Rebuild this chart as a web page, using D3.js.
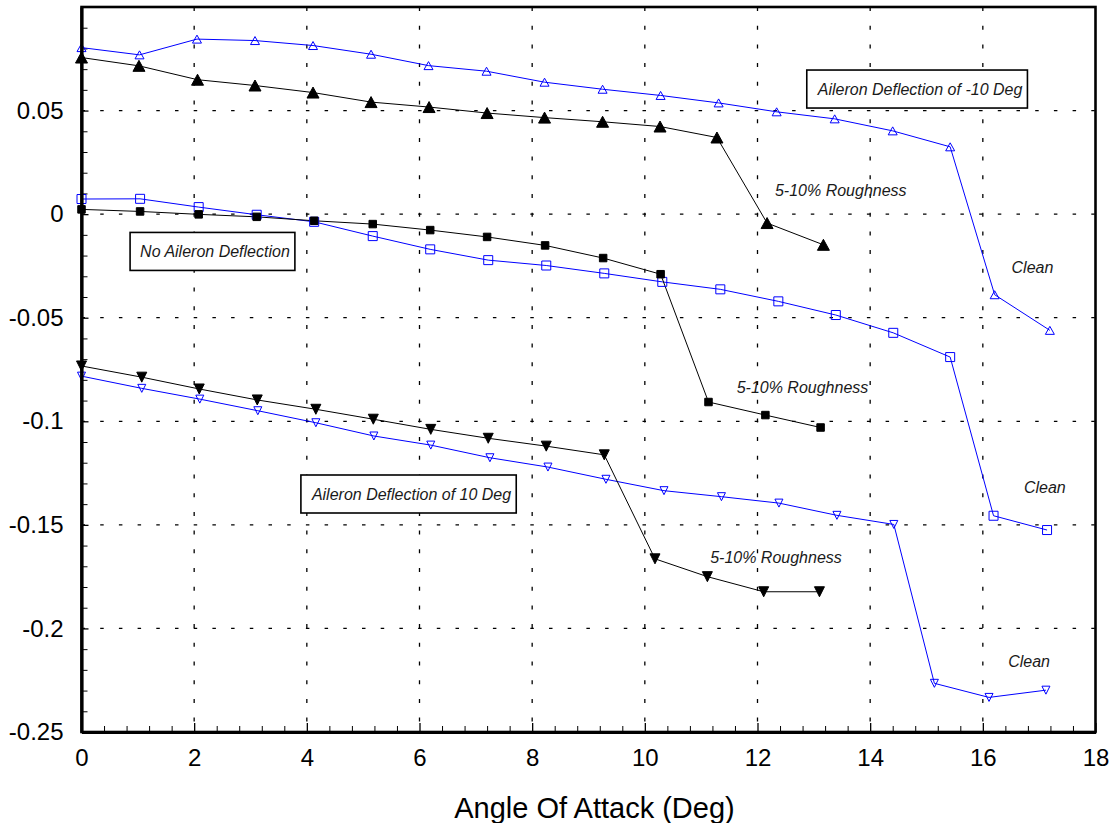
<!DOCTYPE html>
<html lang="en">
<head>
<meta charset="UTF-8">
<title>Rolling moment vs angle of attack</title>
<style>
    body { margin: 0; background: #fff; }
    svg { font-family: Arial, "Liberation Sans", Helvetica, sans-serif; }
    .axis text { font-size: 24px; fill: #000; }
    .note { font-size: 16px; font-style: italic; fill: #1a1a1a; }
</style>
</head>
<body>
<script src="https://d3js.org/d3.v7.min.js"></script>
<script>
    const width = 1115;
    const height = 823;

    // axis ticks
    const xTicks = [0, 2, 4, 6, 8, 10, 12, 14, 16, 18];
    const yTicks = [-0.25, -0.2, -0.15, -0.1, -0.05, 0, 0.05];

    // aileron -10 deg
    const cleanNeg10X = [0, 1.03, 2.05, 3.08, 4.11, 5.14, 6.16, 7.19, 8.22, 9.25, 10.28, 11.31, 12.34, 13.37, 14.40, 15.42, 16.21, 17.19];
    const cleanNeg10Y = [0.0804, 0.0769, 0.0845, 0.0838, 0.0814, 0.0772, 0.0717, 0.0690, 0.0637, 0.0603, 0.0573, 0.0537, 0.0494, 0.0460, 0.0402, 0.0325, -0.0389, -0.0561];
    const roughNeg10X = [0, 1.02, 2.06, 3.08, 4.11, 5.14, 6.17, 7.20, 8.22, 9.25, 10.27, 11.28, 12.17, 13.17];
    const roughNeg10Y = [0.0756, 0.0716, 0.0649, 0.0621, 0.0587, 0.0541, 0.0517, 0.0488, 0.0466, 0.0446, 0.0423, 0.0370, -0.0043, -0.0148];

    // no aileron deflection
    const clean0X = [0, 1.04, 2.08, 3.11, 4.13, 5.17, 6.19, 7.22, 8.25, 9.28, 10.31, 11.34, 12.37, 13.39, 14.41, 15.42, 16.19, 17.14];
    const clean0Y = [0.0073, 0.0074, 0.0034, -0.0003, -0.0037, -0.0106, -0.0170, -0.0222, -0.0248, -0.0286, -0.0327, -0.0363, -0.0421, -0.0487, -0.0573, -0.0690, -0.1456, -0.1525];
    const rough0X = [0, 1.04, 2.08, 3.11, 4.13, 5.17, 6.19, 7.20, 8.23, 9.26, 10.28, 11.13, 12.14, 13.12];
    const rough0Y = [0.0023, 0.0013, -0.0001, -0.0013, -0.0032, -0.0048, -0.0077, -0.0110, -0.0151, -0.0212, -0.0290, -0.0907, -0.0970, -0.1030];

    // aileron +10 deg
    const clean10X = [0, 1.07, 2.10, 3.13, 4.16, 5.19, 6.20, 7.25, 8.28, 9.31, 10.34, 11.36, 12.38, 13.41, 14.42, 15.14, 16.11, 17.12];
    const clean10Y = [-0.0782, -0.0841, -0.0893, -0.0949, -0.1007, -0.1071, -0.1115, -0.1176, -0.1221, -0.1280, -0.1335, -0.1364, -0.1395, -0.1454, -0.1498, -0.2265, -0.2333, -0.2298];
    const rough10X = [0, 1.07, 2.09, 3.12, 4.16, 5.18, 6.20, 7.22, 8.25, 9.28, 10.18, 11.11, 12.11, 13.10];
    const rough10Y = [-0.0733, -0.0787, -0.0844, -0.0897, -0.0942, -0.0990, -0.1039, -0.1082, -0.1120, -0.1162, -0.1664, -0.1750, -0.1823, -0.1823];

    // marker styles per series
    const series = [
        { xs: cleanNeg10X, ys: cleanNeg10Y, color: '#0000ff', shape: 'triUp', filled: false, w: 9, h: 8 },
        { xs: roughNeg10X, ys: roughNeg10Y, color: '#000', shape: 'triUp', filled: true, w: 12, h: 11 },
        { xs: clean0X, ys: clean0Y, color: '#0000ff', shape: 'square', filled: false, w: 9, h: 9 },
        { xs: rough0X, ys: rough0Y, color: '#000', shape: 'square', filled: true, w: 7.5, h: 7.5 },
        { xs: clean10X, ys: clean10Y, color: '#0000ff', shape: 'triDown', filled: false, w: 8, h: 8 },
        { xs: rough10X, ys: rough10Y, color: '#000', shape: 'triDown', filled: true, w: 10, h: 10 }
    ];

    // boxed captions and free labels (text start x, baseline y in data units)
    const boxNotes = [
        { text: 'Aileron Deflection of -10 Deg', x: 13.07, y: 0.0575 },
        { text: 'No Aileron Deflection', x: 1.04, y: -0.0209 },
        { text: 'Aileron Deflection of 10 Deg', x: 4.09, y: -0.1380 }
    ];
    const notes = [
        { text: '5-10% Roughness', x: 12.31, y: 0.0089 },
        { text: '5-10% Roughness', x: 11.63, y: -0.0864 },
        { text: '5-10% Roughness', x: 11.16, y: -0.1684 },
        { text: 'Clean', x: 16.51, y: -0.0284 },
        { text: 'Clean', x: 16.73, y: -0.1346 },
        { text: 'Clean', x: 16.45, y: -0.2186 }
    ];

    const xScale = d3.scaleLinear().domain([0, 18]).range([81.5, 1095.5]);
    const yScale = d3.scaleLinear().domain([-0.25, 0.1]).range([732, 7]);

    const svg = d3.select('body').append('svg').attr('width', width).attr('height', height);

    // grid
    const grid = svg.append('g');
    grid.selectAll('line.vg')
        .data(xTicks.slice(1, -1))
        .enter()
        .append('line')
        .attr('x1', d => xScale(d)).attr('x2', d => xScale(d))
        .attr('y1', yScale(0.1)).attr('y2', yScale(-0.25))
        .attr('stroke', '#000').attr('stroke-width', 1.3)
        .attr('stroke-dasharray', '4,14.7');
    grid.selectAll('line.hg')
        .data(yTicks.slice(1))
        .enter()
        .append('line')
        .attr('y1', d => yScale(d)).attr('y2', d => yScale(d))
        .attr('x1', xScale(0)).attr('x2', xScale(18))
        .attr('stroke', '#000').attr('stroke-width', 1.3)
        .attr('stroke-dasharray', '3.5,15.2');

    // minor ticks
    const xMinor = d3.range(0, 18.01, 0.4).filter(v => Math.abs(v / 2 - Math.round(v / 2)) > 0.01);
    const yMinor = d3.range(-0.25, 0.1001, 0.01).filter(v => Math.abs(v / 0.05 - Math.round(v / 0.05)) > 0.01);

    svg.append('g')
        .attr('transform', 'translate(0,' + yScale(-0.25) + ')')
        .call(d3.axisBottom(xScale).tickValues(xMinor).tickSize(-6).tickFormat(''))
        .call(g => g.select('.domain').remove());
    svg.append('g')
        .attr('transform', 'translate(' + xScale(0) + ',0)')
        .call(d3.axisLeft(yScale).tickValues(yMinor).tickSize(-6).tickFormat(''))
        .call(g => g.select('.domain').remove());

    // annotation boxes
    boxNotes.forEach(n => {
        const g = svg.append('g');
        const rect = g.append('rect');
        const t = g.append('text')
            .attr('class', 'note')
            .attr('x', xScale(n.x))
            .attr('y', yScale(n.y))
            .text(n.text);
        const bb = t.node().getBBox();
        rect.attr('x', bb.x - 10)
            .attr('y', yScale(n.y) - 25)
            .attr('width', bb.width + 15)
            .attr('height', 38)
            .attr('fill', '#fff')
            .attr('stroke', '#000')
            .attr('stroke-width', 1.6);
    });

    // lines
    const line = d3.line().x(d => xScale(d[0])).y(d => yScale(d[1]));
    series.forEach(s => {
        const pts = s.xs.map((x, i) => [x, s.ys[i]]);
        svg.append('path')
            .datum(pts)
            .attr('d', line)
            .attr('fill', 'none')
            .attr('stroke', s.color)
            .attr('stroke-width', 1);
    });

    // markers
    function markerPath(shape, w, h) {
        if (shape === 'square') {
            return 'M' + (-w / 2) + ',' + (-h / 2) + 'h' + w + 'v' + h + 'h' + (-w) + 'Z';
        }
        if (shape === 'triUp') {
            return 'M0,' + (-h / 2) + 'L' + (w / 2) + ',' + (h / 2) + 'L' + (-w / 2) + ',' + (h / 2) + 'Z';
        }
        return 'M0,' + (h / 2) + 'L' + (w / 2) + ',' + (-h / 2) + 'L' + (-w / 2) + ',' + (-h / 2) + 'Z';
    }
    series.forEach(s => {
        const pts = s.xs.map((x, i) => [x, s.ys[i]]);
        svg.append('g')
            .selectAll('path')
            .data(pts)
            .enter()
            .append('path')
            .attr('transform', d => 'translate(' + xScale(d[0]) + ',' + yScale(d[1]) + ')')
            .attr('d', markerPath(s.shape, s.w, s.h))
            .attr('fill', s.filled ? s.color : 'none')
            .attr('stroke', s.color)
            .attr('stroke-width', 1);
    });

    // free labels
    svg.append('g')
        .selectAll('text')
        .data(notes)
        .enter()
        .append('text')
        .attr('class', 'note')
        .attr('x', d => xScale(d.x))
        .attr('y', d => yScale(d.y))
        .text(d => d.text);

    // frame
    svg.append('rect')
        .attr('x', xScale(0)).attr('y', yScale(0.1))
        .attr('width', xScale(18) - xScale(0))
        .attr('height', yScale(-0.25) - yScale(0.1))
        .attr('fill', 'none')
        .attr('stroke', '#000')
        .attr('stroke-width', 2.6);

    // main axes
    const fmt = d => String(+d.toFixed(2));
    svg.append('g')
        .attr('class', 'axis')
        .attr('transform', 'translate(0,' + yScale(-0.25) + ')')
        .call(d3.axisBottom(xScale).tickValues(xTicks).tickSizeInner(-9).tickSizeOuter(0).tickPadding(17).tickFormat(fmt))
        .call(g => g.select('.domain').attr('stroke-width', 3))
        .call(g => g.selectAll('.tick line').attr('stroke-width', 1.3));
    svg.append('g')
        .attr('class', 'axis')
        .attr('transform', 'translate(' + xScale(0) + ',0)')
        .call(d3.axisLeft(yScale).tickValues(yTicks).tickSizeInner(-7).tickSizeOuter(0).tickPadding(18).tickFormat(fmt))
        .call(g => g.select('.domain').attr('stroke-width', 3.2))
        .call(g => g.selectAll('.tick line').attr('stroke-width', 1.3));
    svg.selectAll('.axis text').attr('font-family', null).attr('font-size', null);

    // axis title
    svg.append('text')
        .attr('x', (xScale(0) + xScale(18)) / 2 + 6)
        .attr('y', 818)
        .attr('text-anchor', 'middle')
        .attr('font-size', 29)
        .attr('fill', '#000')
        .text('Angle Of Attack (Deg)');
</script>
</body>
</html>
